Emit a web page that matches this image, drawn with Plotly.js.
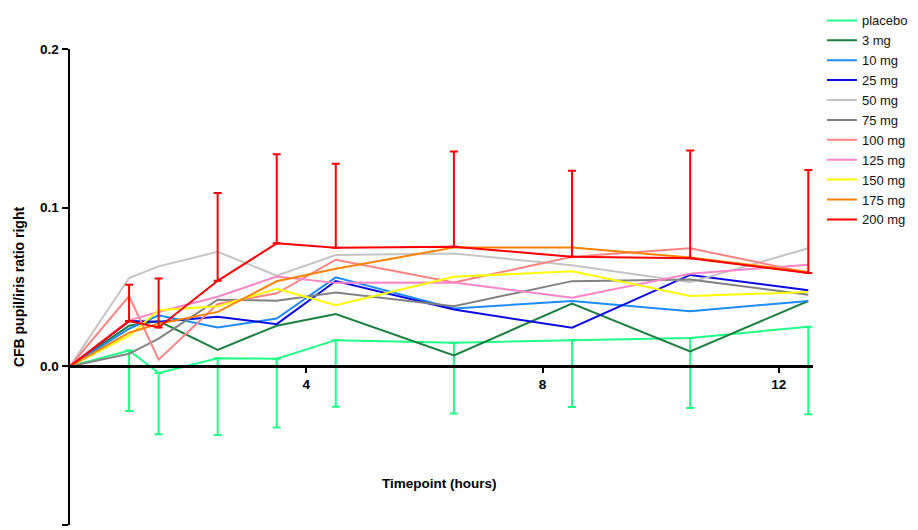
<!DOCTYPE html>
<html>
<head>
<meta charset="utf-8">
<script src="https://cdn.plot.ly/plotly-3.0.1.min.js"></script>
<style>html,body{margin:0;padding:0;background:#fff;}#chart{width:918px;height:530px;}</style>
</head>
<body>
<div id="chart"></div>
<script>
// Timepoints (hours)
var timepoints = [0, 1, 1.5, 2.5, 3.5, 4.5, 6.5, 8.5, 10.5, 12.5];

// Series names
var seriesNames = ['placebo', '3 mg', '10 mg', '25 mg', '50 mg', '75 mg', '100 mg', '125 mg', '150 mg', '175 mg', '200 mg'];

// Mean change from baseline, pupil/iris ratio right
var placebo = [0, 0.0100, -0.0042, 0.0051, 0.0048, 0.0165, 0.0149, 0.0166, 0.0179, 0.0250];
var mg3     = [0, 0.0256, 0.0285, 0.0104, 0.0256, 0.0329, 0.0069, 0.0395, 0.0094, 0.0412];
var mg10    = [0, 0.0237, 0.0322, 0.0245, 0.0301, 0.0561, 0.0364, 0.0412, 0.0347, 0.0412];
var mg25    = [0, 0.0285, 0.0281, 0.0313, 0.0266, 0.0538, 0.0358, 0.0243, 0.0576, 0.0480];
var mg50    = [0, 0.0557, 0.0630, 0.0722, 0.0572, 0.0701, 0.0711, 0.0637, 0.0530, 0.0744];
var mg75    = [0, 0.0079, 0.0175, 0.0420, 0.0414, 0.0466, 0.0379, 0.0537, 0.0547, 0.0451];
var mg100   = [0, 0.0443, 0.0042, 0.0393, 0.0460, 0.0672, 0.0528, 0.0691, 0.0744, 0.0590];
var mg125   = [0, 0.0290, 0.0343, 0.0439, 0.0566, 0.0526, 0.0528, 0.0432, 0.0584, 0.0641];
var mg150   = [0, 0.0193, 0.0354, 0.0378, 0.0489, 0.0385, 0.0565, 0.0599, 0.0443, 0.0468];
var mg175   = [0, 0.0212, 0.0268, 0.0343, 0.0536, 0.0615, 0.0749, 0.0749, 0.0686, 0.0595];
var mg200   = [0, 0.0285, 0.0245, 0.0539, 0.0775, 0.0748, 0.0754, 0.0690, 0.0681, 0.0588];

// One-sided error bars (placebo: downward, 200 mg: upward)
var placeboErrDown = [NaN, 0.0381, 0.0386, 0.0483, 0.0433, 0.0420, 0.0446, 0.0422, 0.0441, 0.0552];
var placeboErrUp   = [NaN, 0, 0, 0, 0, 0, 0, 0, 0, 0];
var mg200ErrUp     = [NaN, 0.0229, 0.0308, 0.0554, 0.0561, 0.0529, 0.0600, 0.0543, 0.0679, 0.0649];
var mg200ErrDown   = [NaN, 0, 0, 0, 0, 0, 0, 0, 0, 0];

// Axis ticks
var yTickVals = [-0.1, 0, 0.1, 0.2];
var yTickText = ['-0.1', '0.0', '0.1', '0.2'];
var xTickVals = [4, 8, 12];
var xTickText = ['4', '8', '12'];

var seriesValues = [placebo, mg3, mg10, mg25, mg50, mg75, mg100, mg125, mg150, mg175, mg200];
var colors = ['#1eff86', '#1b7f3e', '#1e8cff', '#0a0ae6', '#c4c4c4', '#828282', '#ff8282', '#ff85c8', '#ffff00', '#ff8200', '#ff0000'];

var traces = seriesValues.map(function (vals, i) {
  return {
    x: timepoints,
    y: vals,
    name: seriesNames[i],
    type: 'scatter',
    mode: 'lines',
    cliponaxis: false,
    line: {color: colors[i], width: 2},
    hoverinfo: 'skip'
  };
});
traces[0].error_y = {type: 'data', symmetric: false, array: placeboErrUp, arrayminus: placeboErrDown,
  color: colors[0], thickness: 2, width: 4, visible: true};
traces[10].error_y = {type: 'data', symmetric: false, array: mg200ErrUp, arrayminus: mg200ErrDown,
  color: colors[10], thickness: 2, width: 4, visible: true};

var fontFam = '"Liberation Sans", Arial, sans-serif';

var layout = {
  width: 918,
  height: 530,
  margin: {l: 70, r: 103, t: 44, b: 5},
  paper_bgcolor: '#ffffff',
  plot_bgcolor: '#ffffff',
  showlegend: true,
  font: {family: fontFam, color: '#000'},
  legend: {
    x: 1.012, xanchor: 'left',
    y: 1.0915, yanchor: 'top',
    font: {family: fontFam, size: 13, color: '#111'},
    bgcolor: 'rgba(0,0,0,0)',
    borderwidth: 0
  },
  xaxis: {
    range: [0, 12.58],
    anchor: 'free',
    position: 1 / 3,
    tickmode: 'array',
    tickvals: xTickVals,
    ticktext: xTickText,
    ticks: 'outside',
    ticklen: 5,
    tickwidth: 2,
    tickcolor: '#000',
    showline: true,
    linecolor: '#000',
    linewidth: 2.5,
    showgrid: false,
    zeroline: false,
    tickfont: {family: fontFam, size: 13.5, color: '#000', weight: 'bold'}
  },
  yaxis: {
    range: [-0.1, 0.2],
    tickmode: 'array',
    tickvals: yTickVals,
    ticktext: yTickText,
    ticks: 'outside',
    ticklen: 6,
    tickwidth: 2,
    tickcolor: '#000',
    showline: true,
    linecolor: '#000',
    linewidth: 2.5,
    showgrid: false,
    zeroline: false,
    tickfont: {family: fontFam, size: 13.5, color: '#000', weight: 'bold'},
    title: {text: 'CFB pupil/iris ratio right', font: {family: fontFam, size: 14, color: '#000', weight: 'bold'}, standoff: 12}
  },
  annotations: [{
    text: 'Timepoint (hours)',
    xref: 'paper', yref: 'paper',
    x: 0.4967, y: 0.0873,
    xanchor: 'center', yanchor: 'middle',
    showarrow: false,
    font: {family: fontFam, size: 13.5, color: '#000', weight: 'bold'}
  }]
};

Plotly.newPlot('chart', traces, layout, {displayModeBar: false, staticPlot: true});
</script>
</body>
</html>
